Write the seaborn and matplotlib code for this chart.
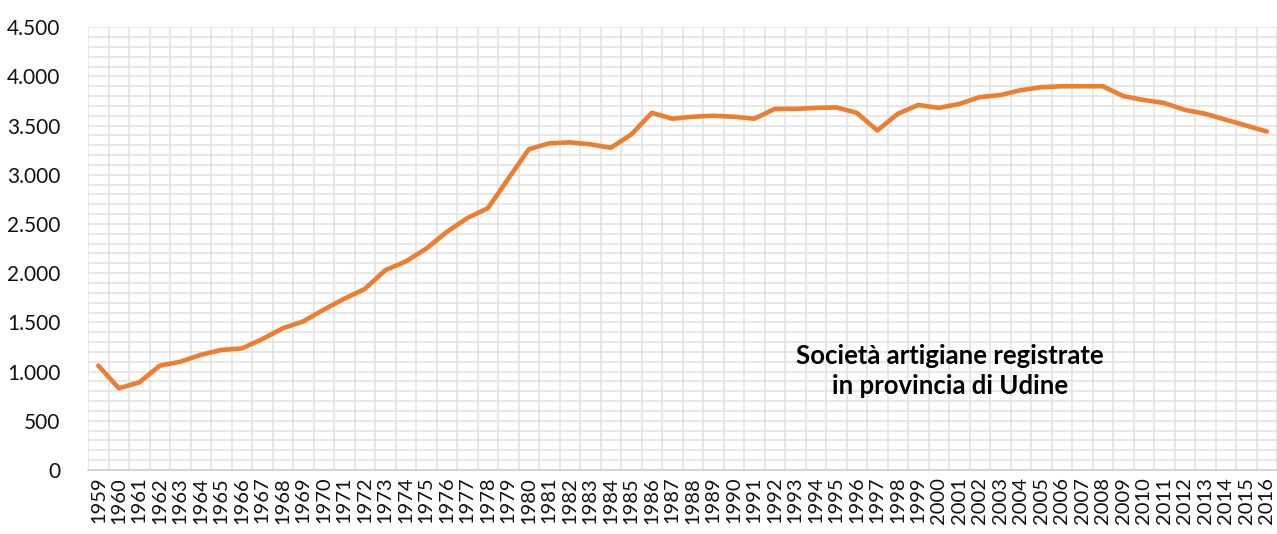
import matplotlib
matplotlib.use("Agg")
import matplotlib.pyplot as plt
import seaborn as sns
import pandas as pd
from matplotlib.ticker import MultipleLocator, FuncFormatter

years = list(range(1959, 2017))
values = [1060, 830, 890, 1060, 1100, 1170, 1220, 1235, 1330, 1440,
          1510, 1630, 1740, 1840, 2030, 2120, 2250, 2420, 2560, 2660,
          2960, 3260, 3320, 3330, 3310, 3275, 3410, 3630, 3570, 3590,
          3600, 3590, 3570, 3670, 3670, 3680, 3685, 3630, 3450, 3620,
          3710, 3680, 3720, 3790, 3810, 3860, 3890, 3900, 3900, 3900,
          3800, 3760, 3730, 3660, 3620, 3560, 3500, 3440]
annotation = "Società artigiane registrate\nin provincia di Udine"

sns.set_theme(style="white")
plt.rcParams['font.family'] = ['Lato', 'DejaVu Sans']

df = pd.DataFrame({"anno": years, "valore": values})

fig = plt.figure(figsize=(12.77, 5.34), dpi=100)
ax = fig.add_axes([0.069, 0.12, 0.931, 0.829])

sns.lineplot(data=df, x="anno", y="valore", ax=ax, color="#ED7D31", linewidth=3.3, zorder=3)

ax.set_xlim(years[0] - 0.5, years[-1] + 0.5)
ax.set_ylim(0, 4500)
ax.set_xticks(years)
ax.set_xticklabels([str(y) for y in years], rotation=90)
ax.xaxis.set_minor_locator(MultipleLocator(1, offset=0.5))
ax.yaxis.set_major_locator(MultipleLocator(500))
ax.yaxis.set_minor_locator(MultipleLocator(100))
ax.yaxis.set_major_formatter(FuncFormatter(lambda v, p: f"{int(v):,}".replace(",", ".")))

ax.grid(False)
ax.grid(axis="y", which="both", color="#E3E3E3", linewidth=1.2)
ax.grid(axis="x", which="minor", color="#E3E3E3", linewidth=1.2)
ax.tick_params(axis="both", which="both", length=0)
ax.tick_params(axis="y", labelsize=15, pad=20, colors="#111111")
ax.tick_params(axis="x", labelsize=14.5, pad=5, colors="#111111")
ax.set_xlabel("")
ax.set_ylabel("")
for s in ["top", "right", "left"]:
    ax.spines[s].set_visible(False)
ax.spines["bottom"].set_color("#D0D0D0")
ax.spines["bottom"].set_linewidth(1.2)

ax.text(0.744, 0.305, annotation, transform=fig.transFigure, ha="center", va="center",
        fontsize=18.5, fontweight="bold", color="#000000", linespacing=1.3)

fig.savefig("out.png", dpi=100, facecolor="white")
